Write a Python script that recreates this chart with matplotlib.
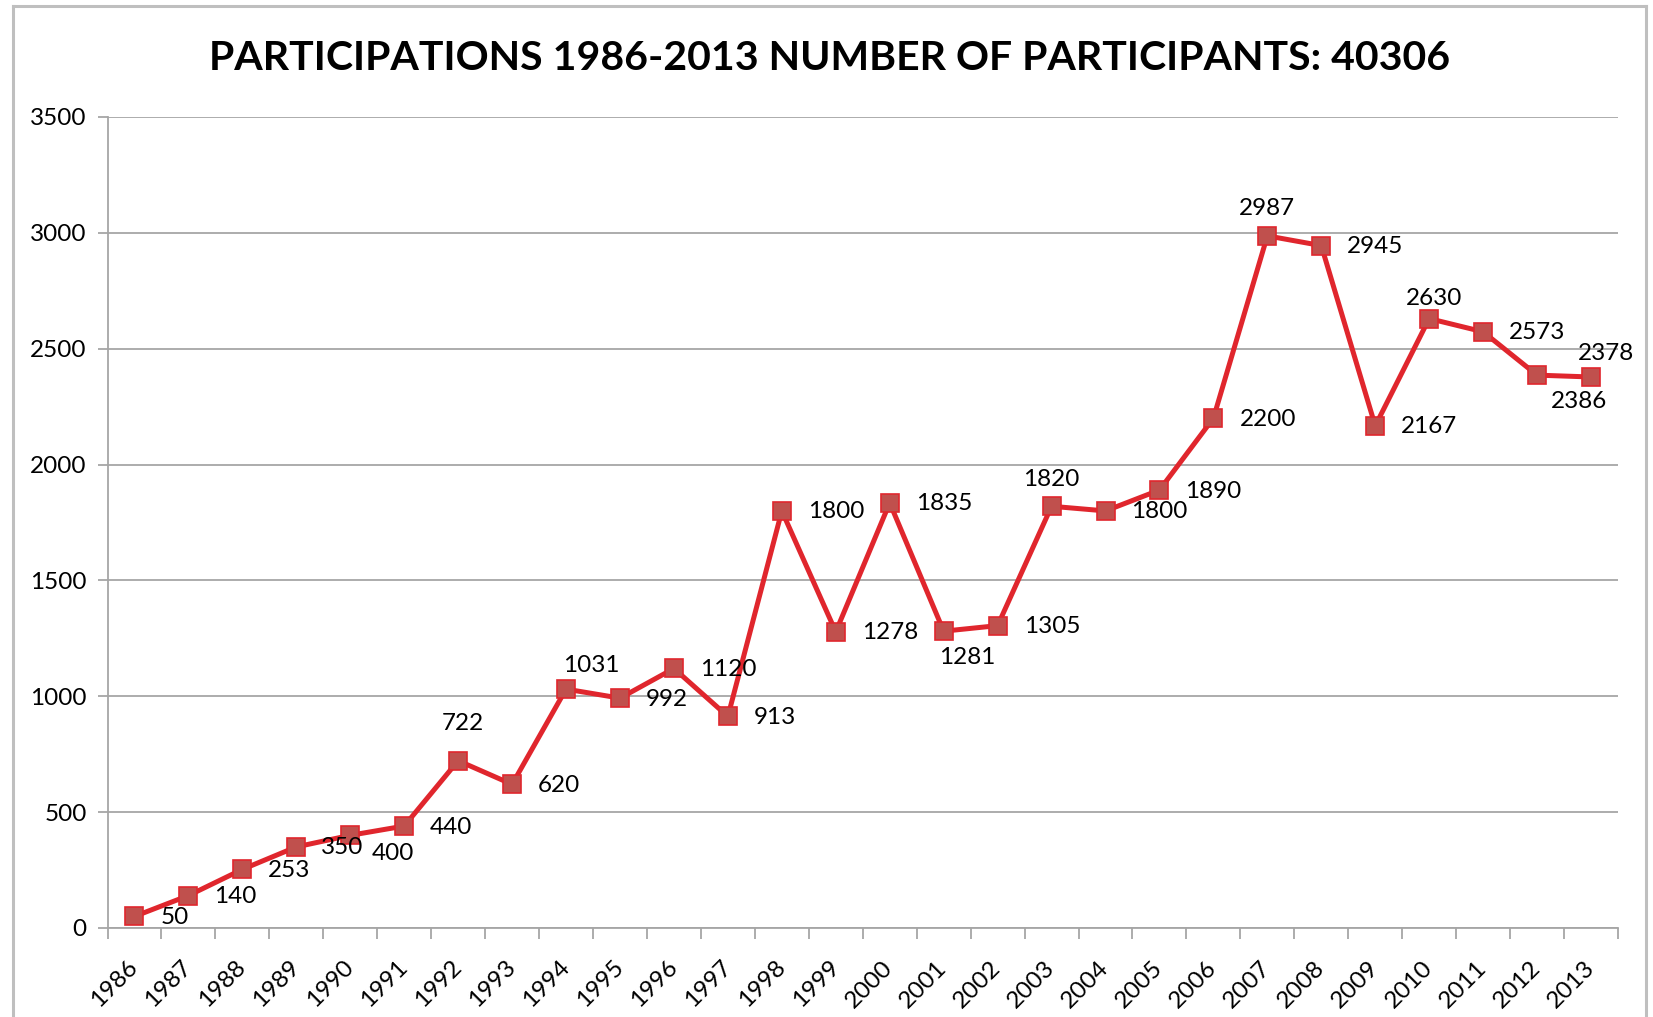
import matplotlib.pyplot as plt
from matplotlib.lines import Line2D

years = [1986, 1987, 1988, 1989, 1990, 1991, 1992, 1993, 1994, 1995,
         1996, 1997, 1998, 1999, 2000, 2001, 2002, 2003, 2004, 2005,
         2006, 2007, 2008, 2009, 2010, 2011, 2012, 2013]
participants = [50, 140, 253, 350, 400, 440, 722, 620, 1031, 992,
                1120, 913, 1800, 1278, 1835, 1281, 1305, 1820, 1800, 1890,
                2200, 2987, 2945, 2167, 2630, 2573, 2386, 2378]
title = 'PARTICIPATIONS 1986-2013 NUMBER OF PARTICIPANTS: 40306'

# label placement (pixel offsets from the marker), default is to the right
label_pos = {
    3: (25, -1, 'left'), 4: (21, -18, 'left'),
    6: (5, 37, 'center'), 8: (25, 24, 'center'),
    15: (24, -26, 'center'), 17: (0, 27, 'center'),
    21: (0, 27, 'center'), 24: (5, 20, 'center'),
    26: (42, -26, 'center'), 27: (15, 23, 'center'),
}

plt.rcParams['font.family'] = ['Lato', 'DejaVu Sans']
grey = '#a6a6a6'
fs = 17.5

fig = plt.figure(figsize=(16.53, 10.17), dpi=100)
W, H = 1653, 1017
ax = fig.add_axes([107.5 / W, 1 - 928 / H, (1618 - 107.5) / W, (928 - 117) / H])

x = list(range(len(years)))
ax.plot(x, participants, color='#e0262d', lw=3.6, marker='s', ms=13.5,
        mfc='#c0504d', mec='#e0262d', mew=1.2, zorder=3, clip_on=False)

for i, v in enumerate(participants):
    dx, dy, ha = label_pos.get(i, (26, -1, 'left'))
    ax.annotate(str(v), (i, v), xytext=(dx, dy), textcoords='offset pixels',
                ha=ha, va='center', fontsize=fs, color='black', zorder=4)

ax.set_xlim(-0.5, len(years) - 0.5)
ax.set_ylim(0, 3500)
ax.set_yticks(range(0, 3501, 500))
ax.yaxis.grid(True, color=grey, lw=1.3)
ax.set_axisbelow(True)

ax.set_xticks(x)
ax.set_xticklabels([str(y) for y in years], rotation=45, ha='right',
                   rotation_mode='anchor', va='center', fontsize=fs)
ax.set_xticks([i - 0.5 for i in range(len(years) + 1)], minor=True)
ax.tick_params(axis='x', which='major', length=0, pad=26)
ax.tick_params(axis='x', which='minor', length=8, color=grey, width=1.3)
ax.tick_params(axis='y', length=7, color=grey, width=1.3, pad=8, labelsize=fs)

for s in ['top', 'right']:
    ax.spines[s].set_visible(False)
for s in ['left', 'bottom']:
    ax.spines[s].set_color(grey)
    ax.spines[s].set_linewidth(1.3)

fig.text(830 / W, 1 - 58 / H, title, ha='center', va='center',
         fontsize=29.5, fontweight='bold')

# outer chart frame
fx0, fx1, fy = 12.5 / W, 1645.5 / W, 1 - 5.5 / H
for xs, ys in [([fx0, fx0], [0, fy]), ([fx0, fx1], [fy, fy]), ([fx1, fx1], [fy, 0])]:
    fig.add_artist(Line2D(xs, ys, color='#bfbfbf', lw=2.2, transform=fig.transFigure))

fig.savefig('out.png', dpi=100)
